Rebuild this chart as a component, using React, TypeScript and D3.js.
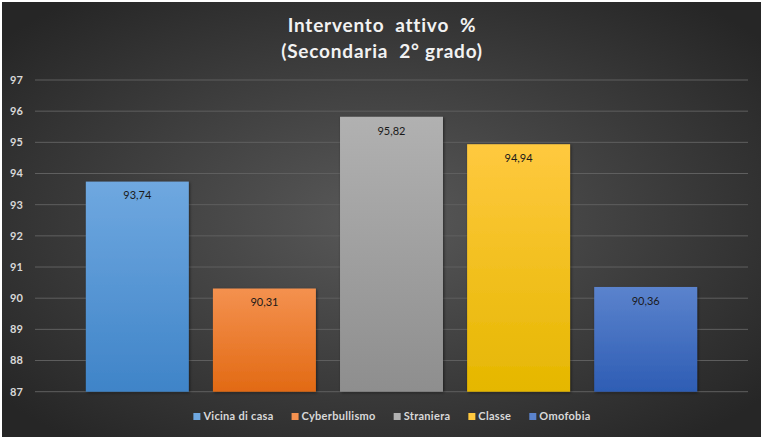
import React, {useRef, useEffect} from 'react';
import * as d3 from 'd3';

// serie (una sola categoria, cinque serie come in Excel)
const seriesNames = ['Vicina di casa', 'Cyberbullismo', 'Straniera', 'Classe', 'Omofobia'];
const seriesValues = [93.74, 90.31, 95.82, 94.94, 90.36];
const yTicks = [87, 88, 89, 90, 91, 92, 93, 94, 95, 96, 97];
const titleLines = ['Intervento  attivo  %', '(Secondaria  2° grado)'];
// colori gradiente [alto, basso]
const barColors: [string, string][] = [
    ['#6fa8e0', '#3f84c8'],
    ['#f4914f', '#e26a14'],
    ['#b1b1b1', '#8e8e8e'],
    ['#ffc93f', '#e5b700'],
    ['#5b83cd', '#2e5db4'],
];

const W = 764;
const H = 439;

const App: React.FC = () => {
    const svgRef = useRef<SVGSVGElement>(null);

    useEffect(() => {
        if (!svgRef.current) return;
        const svg = d3.select(svgRef.current);
        svg.selectAll('*').remove();

        const defs = svg.append('defs');
        const bg = defs.append('radialGradient')
            .attr('id', 'bg-grad')
            .attr('cx', '50%').attr('cy', '50%').attr('r', '65%');
        bg.append('stop').attr('offset', '0%').attr('stop-color', '#595959');
        bg.append('stop').attr('offset', '100%').attr('stop-color', '#262626');

        barColors.forEach((c, i) => {
            const g = defs.append('linearGradient')
                .attr('id', `bar-grad-${i}`)
                .attr('x1', 0).attr('y1', 0).attr('x2', 0).attr('y2', 1);
            g.append('stop').attr('offset', '0%').attr('stop-color', c[0]);
            g.append('stop').attr('offset', '100%').attr('stop-color', c[1]);
        });

        const shadow = defs.append('filter').attr('id', 'bar-shadow')
            .attr('x', '-10%').attr('y', '-10%').attr('width', '130%').attr('height', '130%');
        shadow.append('feDropShadow')
            .attr('dx', 1).attr('dy', 1).attr('stdDeviation', 1.5)
            .attr('flood-color', '#000').attr('flood-opacity', 0.5);

        // sfondo
        svg.append('rect').attr('width', W).attr('height', H).attr('fill', '#ffffff');
        svg.append('rect')
            .attr('x', 2).attr('y', 2).attr('width', 759).attr('height', 435)
            .attr('fill', 'url(#bg-grad)');

        // titolo
        svg.append('g').selectAll('text')
            .data(titleLines)
            .join('text')
            .attr('x', 382)
            .attr('y', (_, i) => 32 + i * 26)
            .attr('text-anchor', 'middle')
            .style('white-space', 'pre')
            .style('font-family', 'Lato, "Open Sans", sans-serif')
            .style('font-weight', 'bold')
            .style('font-size', '19px')
            .style('letter-spacing', '0.8px')
            .style('fill', '#f2f2f2')
            .text(d => d);

        const y = d3.scaleLinear().domain([87, 97]).range([391.7, 80]);
        const x = d3.scaleBand<string>()
            .domain(seriesNames)
            .range([35, 748])
            .paddingInner(0.19)
            .paddingOuter(0.4);

        // griglia
        svg.append('g').selectAll('line')
            .data(yTicks)
            .join('line')
            .attr('x1', 35).attr('x2', 748)
            .attr('y1', d => y(d)).attr('y2', d => y(d))
            .style('stroke', '#5f5f5f')
            .style('stroke-width', 1);

        // etichette asse y
        svg.append('g').selectAll('text')
            .data(yTicks)
            .join('text')
            .attr('x', 10)
            .attr('y', d => y(d))
            .attr('dy', '0.35em')
            .style('font-family', 'Lato, "Open Sans", sans-serif')
            .style('font-weight', 'bold')
            .style('font-size', '11px')
            .style('fill', '#d9d9d9')
            .text(d => d);

        // barre
        svg.append('g').selectAll('rect')
            .data(seriesValues)
            .join('rect')
            .attr('x', (_, i) => x(seriesNames[i])!)
            .attr('width', x.bandwidth())
            .attr('y', d => y(d))
            .attr('height', d => y(87) - y(d))
            .attr('fill', (_, i) => `url(#bar-grad-${i})`)
            .attr('filter', 'url(#bar-shadow)');

        // etichette dati
        svg.append('g').selectAll('text')
            .data(seriesValues)
            .join('text')
            .attr('x', (_, i) => x(seriesNames[i])! + x.bandwidth() / 2)
            .attr('y', d => y(d) + 14)
            .attr('dy', '0.35em')
            .attr('text-anchor', 'middle')
            .style('font-family', 'Lato, "Open Sans", sans-serif')
            .style('font-size', '11px')
            .style('fill', '#1a1a1a')
            .text(d => d.toFixed(2).replace('.', ','));

        // legenda
        const legend = svg.append('g');
        const items = legend.selectAll('g')
            .data(seriesNames)
            .join('g');
        items.append('rect')
            .attr('width', 7).attr('height', 7)
            .attr('y', -3.5)
            .attr('fill', (_, i) => barColors[i][0]);
        items.append('text')
            .attr('x', 10)
            .attr('dy', '0.35em')
            .style('font-family', 'Lato, "Open Sans", sans-serif')
            .style('font-weight', 'bold')
            .style('font-size', '11px')
            .style('letter-spacing', '0.3px')
            .style('fill', '#d9d9d9')
            .text(d => d);
        const widths: number[] = [];
        items.each(function () {
            const t = d3.select(this).select('text').node() as SVGTextElement;
            widths.push(10 + t.getComputedTextLength());
        });
        const gap = 18;
        const total = d3.sum(widths) + gap * (widths.length - 1);
        let cx = 392 - total / 2;
        items.attr('transform', (_, i) => {
            const tx = cx;
            cx += widths[i] + gap;
            return `translate(${tx},416.5)`;
        });
    }, []);

    return (
        <svg ref={svgRef} width={W} height={H} viewBox={`0 0 ${W} ${H}`}
             style={{display: 'block', position: 'absolute', left: 0, top: 0}}/>
    );
};

export default App;
